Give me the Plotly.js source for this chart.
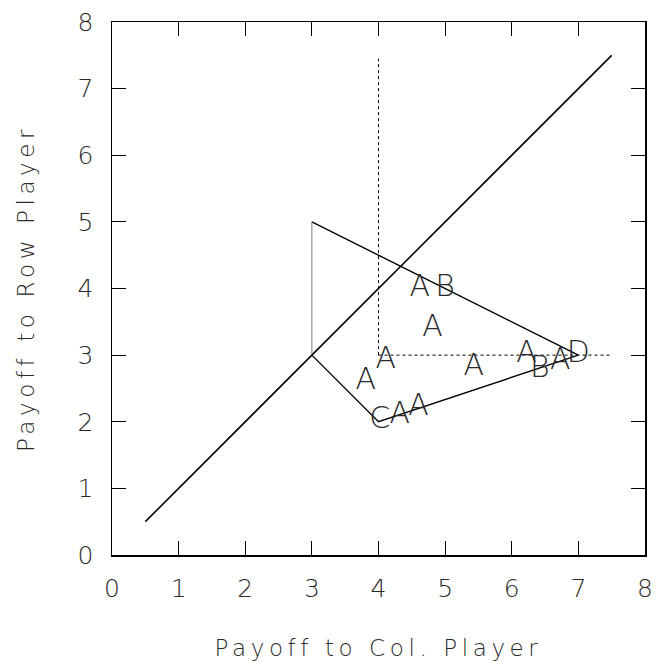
<!DOCTYPE html>
<html>
<head>
<meta charset="utf-8">
<script src="https://cdn.plot.ly/plotly-3.0.1.min.js"></script>
<style>
body{margin:0;background:#fff}
#chart{width:659px;height:671px}
#chart .xtitle, #chart .ytitle{letter-spacing:4.6px}
</style>
</head>
<body>
<div id="chart"></div>
<script>
// Diagonal (equal payoff) line
const diagX = [0.5, 7.5];
const diagY = [0.5, 7.5];
// Feasible region outline
const polyX = [3, 7, 4, 3];
const polyY = [5, 3, 2, 3];
const leftEdgeX = [3, 3];
const leftEdgeY = [3, 5];
// Dotted reference lines
const dotVX = [4, 4];
const dotVY = [3, 7.45];
const dotHX = [4, 7.5];
const dotHY = [3, 3];
// Letter observations
const letters = ["A","B","A","A","A","C","A","A","A","A","B","A","D"];
const letterX = [4.62, 5.0, 4.81, 4.11, 3.81, 4.02, 4.32, 4.6, 5.43, 6.22, 6.42, 6.73, 7.0];
const letterY = [4.0, 4.0, 3.4, 2.92, 2.61, 2.02, 2.1, 2.21, 2.81, 3.01, 2.79, 2.9, 3.01];
// Ticks
const tickVals = [0,1,2,3,4,5,6,7,8];
const tickText = ["0","1","2","3","4","5","6","7","8"];

const FONT = "'DejaVu Sans', sans-serif";
const TXT = "#2a2a2a";
const traces = [
  {x: diagX, y: diagY, mode: "lines", line: {color: "#000", width: 1.6}, hoverinfo: "skip"},
  {x: polyX, y: polyY, mode: "lines", line: {color: "#000", width: 1.4}, hoverinfo: "skip"},
  {x: leftEdgeX, y: leftEdgeY, mode: "lines", line: {color: "#555", width: 0.8}, hoverinfo: "skip"},
  {x: dotVX, y: dotVY, mode: "lines", line: {color: "#000", width: 1, dash: "dot"}, hoverinfo: "skip"},
  {x: dotHX, y: dotHY, mode: "lines", line: {color: "#000", width: 1, dash: "dot"}, hoverinfo: "skip"},
  {x: letterX, y: letterY, mode: "text", text: letters, textposition: "middle center",
   textfont: {family: FONT, size: 30, color: TXT, weight: 200}, hoverinfo: "skip"}
];

const axisCommon = {
  range: [0, 8], tickvals: tickVals, ticktext: tickText,
  ticks: "inside", ticklen: 14, tickwidth: 1, tickcolor: "#000",
  showline: true, linecolor: "#000", linewidth: 1.5, mirror: "ticks",
  showgrid: false, zeroline: false, fixedrange: true,
  tickfont: {family: FONT, size: 25, color: TXT, weight: 200}
};

const layout = {
  width: 659, height: 671,
  margin: {l: 112, r: 14, t: 22, b: 116},
  paper_bgcolor: "#fff", plot_bgcolor: "#fff",
  showlegend: false,
  xaxis: Object.assign({}, axisCommon, {
    ticklabelstandoff: 10,
    title: {text: "Payoff to Col. Player", standoff: 38, font: {family: FONT, size: 23, color: TXT, weight: 200}}
  }),
  yaxis: Object.assign({}, axisCommon, {
    ticklabelstandoff: 12,
    title: {text: "Payoff to Row Player", standoff: 36, font: {family: FONT, size: 23, color: TXT, weight: 200}}
  })
};

Plotly.newPlot("chart", traces, layout, {displayModeBar: false, staticPlot: true});
</script>
</body>
</html>
